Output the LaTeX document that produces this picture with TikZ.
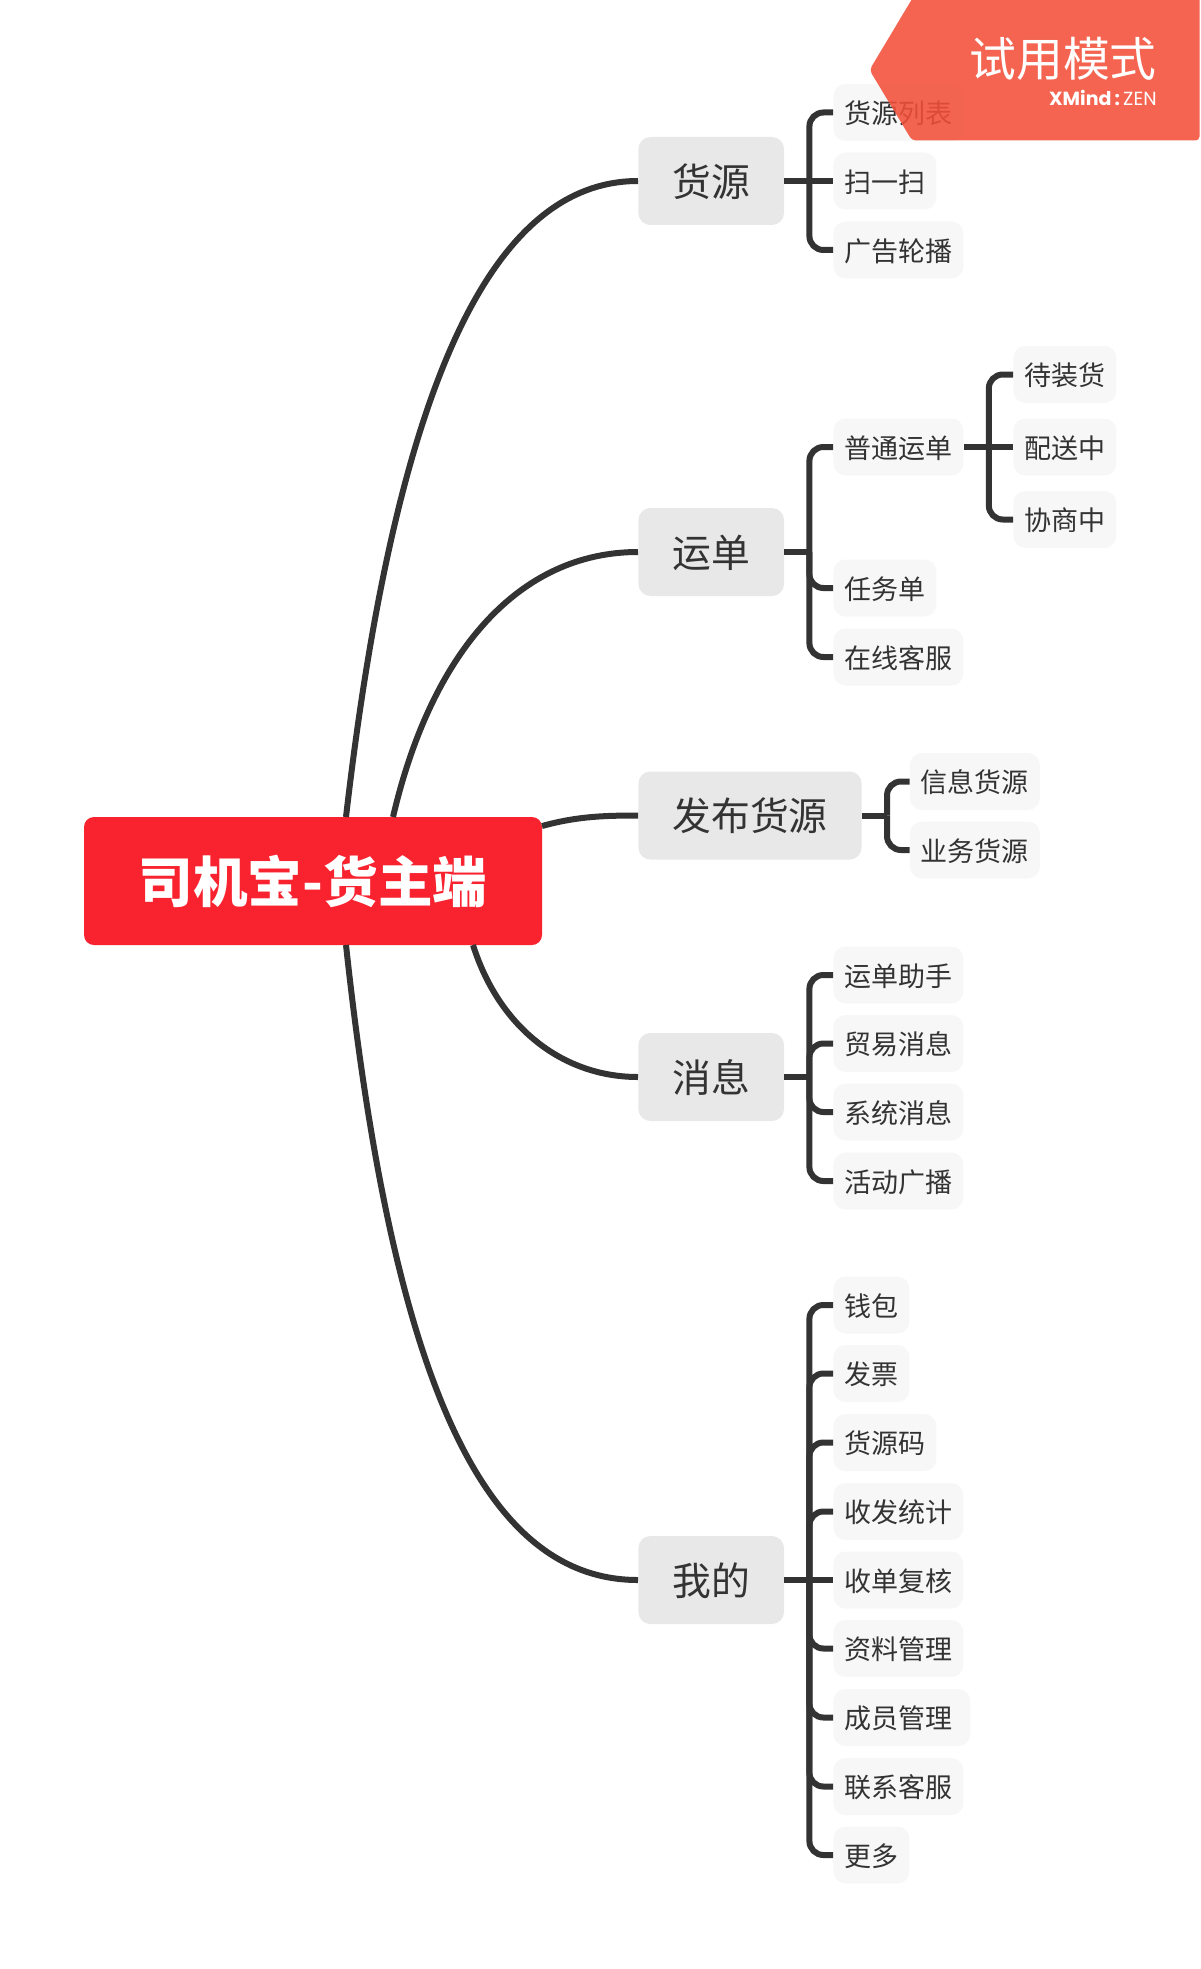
\documentclass[tikz,border=0pt]{standalone}
\usepackage{fontspec}
\setmainfont{Noto Sans CJK SC}
\newfontfamily\xmfont{Poppins}
\usetikzlibrary{positioning,calc}
\definecolor{linegray}{HTML}{333333}
\definecolor{topicgray}{HTML}{E8E8E8}
\definecolor{leafgray}{HTML}{F7F7F7}
\definecolor{rootred}{HTML}{F9222F}
\definecolor{markred}{HTML}{F24F39}
\tikzset{
	rootnode/.style={fill=rootred,text=white,rounded corners=5pt,minimum width=229pt,minimum height=64pt,inner sep=0pt,font=\fontsize{27.3}{30}\selectfont\bfseries},
	topic/.style={anchor=west,fill=topicgray,text=linegray,rounded corners=6pt,minimum height=44pt,inner xsep=17pt,inner ysep=0pt,text height=17.1pt,text depth=1.9pt,font=\fontsize{19.4}{22}\selectfont},
	leaf/.style={anchor=west,fill=leafgray,text=linegray,rounded corners=6pt,minimum height=28.5pt,inner xsep=5.5pt,inner ysep=0pt,text height=12.4pt,text depth=1.1pt,font=\fontsize{13.5}{16}\selectfont},
	curve/.style={draw=linegray,line width=3pt},
	branch/.style={draw=linegray,line width=3pt,rounded corners=7pt},
}
\begin{document}
\begin{tikzpicture}[x=0.5pt,y=-0.5pt]
	\useasboundingbox (0,0) rectangle (1200,1969);
	% main topics
	\node[rootnode] (root) at (313,881) {司机宝-货主端};
	\node[topic] (huoyuan) at (638,181) {货源};
	\node[topic] (yundan) at (638,552) {运单};
	\node[topic] (fabu) at (638,815.5) {发布货源};
	\node[topic] (xiaoxi) at (638,1077) {消息};
	\node[topic] (wode) at (638,1580) {我的};
	% 货源
	\node[leaf] (a1) at (833,112.5) {货源列表};
	\node[leaf] (a2) at (833,181) {扫一扫};
	\node[leaf] (a3) at (833,250) {广告轮播};
	% 运单
	\node[leaf] (b1) at (833,447) {普通运单};
	\node[leaf] (b2) at (833,588) {任务单};
	\node[leaf] (b3) at (833,657) {在线客服};
	\node[leaf] (c1) at (1013,374.5) {待装货};
	\node[leaf] (c2) at (1013,447) {配送中};
	\node[leaf] (c3) at (1013,519.5) {协商中};
	% 发布货源
	\node[leaf] (d1) at (909.5,781.5) {信息货源};
	\node[leaf] (d2) at (909.5,850) {业务货源};
	% 消息
	\node[leaf] (e1) at (833,975) {运单助手};
	\node[leaf] (e2) at (833,1043.5) {贸易消息};
	\node[leaf] (e3) at (833,1112) {系统消息};
	\node[leaf] (e4) at (833,1181) {活动广播};
	% 我的
	\node[leaf] (f1) at (833,1305) {钱包};
	\node[leaf] (f2) at (833,1373.5) {发票};
	\node[leaf] (f3) at (833,1442.5) {货源码};
	\node[leaf] (f4) at (833,1511.5) {收发统计};
	\node[leaf] (f5) at (833,1580) {收单复核};
	\node[leaf] (f6) at (833,1648.5) {资料管理};
	\node[leaf,text width=57.5pt,align=left] (f7) at (833,1717.5) {成员管理};
	\node[leaf] (f8) at (833,1786.5) {联系客服};
	\node[leaf] (f9) at (833,1855) {更多};
	% curves out of the root
	\coordinate (ra) at (346,817);
	\coordinate (rb) at (393,817);
	\coordinate (rc) at (542,826);
	\coordinate (rd) at (473,945);
	\coordinate (re) at (346,945);
	\draw[curve] (ra) .. controls (392,420) and (480,181) .. (huoyuan.west);
	\draw[curve] (rb) .. controls (432,650) and (520,552) .. (yundan.west);
	\draw[curve] (rc) .. controls (575,817) and (600,815.5) .. (fabu.west);
	\draw[curve] (rd) .. controls (500,1030) and (565,1077) .. (xiaoxi.west);
	\draw[curve] (re) .. controls (392,1370) and (480,1580) .. (wode.west);
	% branches
	\coordinate (ta) at ([xshift=12.5pt]huoyuan.east);
	\coordinate (tb) at ([xshift=12.5pt]yundan.east);
	\coordinate (tc) at ([xshift=12.5pt]b1.east);
	\coordinate (td) at ([xshift=12.5pt]fabu.east);
	\coordinate (te) at ([xshift=12.5pt]xiaoxi.east);
	\coordinate (tf) at ([xshift=12.5pt]wode.east);
	\draw[curve] (huoyuan.east) -- (a2.west);
	\draw[branch] (ta) |- (a1.west);
	\draw[branch] (ta) |- (a3.west);
	\draw[curve] (yundan.east) -- (tb);
	\draw[branch] (tb) |- (b1.west);
	\draw[branch] (tb) |- (b2.west);
	\draw[branch] (tb) |- (b3.west);
	\draw[curve] (b1.east) -- (c2.west);
	\draw[branch] (tc) |- (c1.west);
	\draw[branch] (tc) |- (c3.west);
	\draw[curve] (fabu.east) -- (td);
	\draw[branch] (td) |- (d1.west);
	\draw[branch] (td) |- (d2.west);
	\draw[curve] (xiaoxi.east) -- (te);
	\draw[branch] (te) |- (e1.west);
	\draw[branch] (te) |- (e2.west);
	\draw[branch] (te) |- (e3.west);
	\draw[branch] (te) |- (e4.west);
	\draw[curve] (wode.east) -- (f5.west);
	\draw[branch] (tf) |- (f1.west);
	\draw[branch] (tf) |- (f2.west);
	\draw[branch] (tf) |- (f3.west);
	\draw[branch] (tf) |- (f4.west);
	\draw[branch] (tf) |- (f6.west);
	\draw[branch] (tf) |- (f7.west);
	\draw[branch] (tf) |- (f8.west);
	\draw[branch] (tf) |- (f9.west);
	% trial mark
	\fill[markred,fill opacity=0.88,rounded corners=2pt] (915,-6) -- (869.5,70) -- (912,140.5) -- (1199.5,140.5) -- (1199.5,-6) -- cycle;
	\node[anchor=east,inner sep=0pt,text=white,font=\fontsize{23.4}{26}\selectfont] (mark) at (1157,59) {试用模式};
	\node[anchor=east,inner sep=0pt,text=white,font=\xmfont\fontsize{9.5}{11}\selectfont] (brand) at (1157,98) {\textbf{XMind}\,\textbf{:}\,ZEN};
\end{tikzpicture}
\end{document}
